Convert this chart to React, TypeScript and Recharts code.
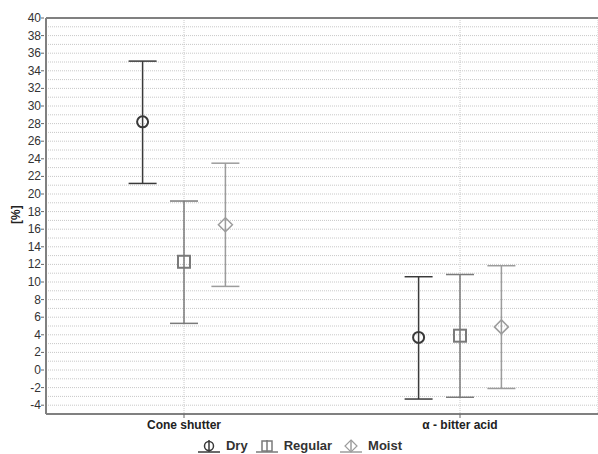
import React from 'react'
import {
  ComposedChart, Scatter, ErrorBar, XAxis, YAxis, CartesianGrid,
  ReferenceLine, Legend, Label,
} from 'recharts'

const categories = ['Cone shutter', 'α - bitter acid']
const groups = ['Dry', 'Regular', 'Moist']

const dryMean = [28.2, 3.7]
const dryUpper = [35.1, 10.6]
const dryLower = [21.2, -3.3]

const regularMean = [12.3, 3.9]
const regularUpper = [19.2, 10.85]
const regularLower = [5.3, -3.1]

const moistMean = [16.5, 4.9]
const moistUpper = [23.5, 11.85]
const moistLower = [9.5, -2.1]

const yTicks = Array.from({ length: 46 }, (_, i) => i - 5)

const colors = ['#3a3a3a', '#7a7a7a', '#9c9c9c']
const offsets = [-0.15, 0, 0.15]

function build(g: number, mean: number[], upper: number[], lower: number[]) {
  return mean.map((m, i) => ({
    x: i + offsets[g],
    y: m,
    err: [m - lower[i], upper[i] - m],
  }))
}

const dryData = build(0, dryMean, dryUpper, dryLower)
const regularData = build(1, regularMean, regularUpper, regularLower)
const moistData = build(2, moistMean, moistUpper, moistLower)

const font = '"Liberation Sans", Arial, sans-serif'

function Circle({ cx, cy }: any) {
  return <circle cx={cx} cy={cy} r={5.5} fill="none" stroke={colors[0]} strokeWidth={2} />
}
function Square({ cx, cy }: any) {
  return <rect x={cx - 6} y={cy - 6} width={12} height={12} fill="none" stroke={colors[1]} strokeWidth={2} />
}
function Diamond({ cx, cy }: any) {
  return <path d={`M${cx},${cy - 7}L${cx + 7},${cy}L${cx},${cy + 7}L${cx - 7},${cy}Z`} fill="none" stroke={colors[2]} strokeWidth={1.5} />
}

function YTick({ x, y, payload }: any) {
  const v = payload.value
  return (
    <g>
      {v % 2 === 0 && v > -5 && (
        <>
          <line x1={x + 3} x2={x + 6} y1={y} y2={y} stroke="#666" />
          <text x={x + 3} y={y} dy={4} textAnchor="end" fontSize={12} fill="#333" fontFamily={font}>{v}</text>
        </>
      )}
    </g>
  )
}

function Glyph({ i }: { i: number }) {
  const c = colors[i]
  return (
    <svg width={26} height={14} style={{ display: 'block' }}>
      <line x1={13} x2={13} y1={1} y2={13} stroke={c} strokeWidth={1.5} />
      <line x1={2} x2={24} y1={13} y2={13} stroke={c} strokeWidth={1.5} />
      {i === 0 && <circle cx={13} cy={7} r={4.5} fill="none" stroke={c} strokeWidth={1.5} />}
      {i === 1 && <rect x={8} y={2} width={10} height={10} fill="none" stroke={c} strokeWidth={1.5} />}
      {i === 2 && <path d="M13,1L19,7L13,13L7,7Z" fill="none" stroke={c} strokeWidth={1.2} />}
    </svg>
  )
}

function LegendContent() {
  return (
    <div style={{ display: 'flex', justifyContent: 'center', gap: 6, paddingTop: 4, lineHeight: '15px', fontFamily: font, fontSize: 13, fontWeight: 'bold', color: '#333' }}>
      {groups.map((g, i) => (
        <span key={g} style={{ display: 'flex', alignItems: 'center', gap: 4 }}>
          <Glyph i={i} />
          {g}
        </span>
      ))}
    </div>
  )
}

export default function App() {
  return (
    <div style={{ position: 'absolute', left: 0, top: 0, background: '#fff' }}>
      <ComposedChart width={598} height={454} margin={{ top: 18, right: 0, left: 0, bottom: 0 }}>
        <CartesianGrid stroke="#c8c8c8" strokeDasharray="1 1" />
        <XAxis
          type="number"
          dataKey="x"
          domain={[-0.5, 1.5]}
          ticks={[0, 1]}
          tickFormatter={(v: number) => categories[v]}
          tick={{ fontSize: 12, fontWeight: 'bold', fill: '#222', fontFamily: font }}
          tickLine={{ stroke: '#666' }}
          tickSize={4}
          axisLine={{ stroke: '#808080', strokeWidth: 2 }}
          height={20}
          allowDataOverflow
        />
        <YAxis
          type="number"
          dataKey="y"
          domain={[-5, 40]}
          ticks={yTicks}
          interval={0}
          tick={<YTick />}
          tickLine={false}
          axisLine={{ stroke: '#808080', strokeWidth: 2 }}
          width={46}
          allowDataOverflow
        >
          <Label value="[%]" angle={-90} position="insideLeft" offset={16} dy={8} style={{ fontSize: 12, fontWeight: 'bold', fill: '#222', fontFamily: font }} />
        </YAxis>
        <ReferenceLine y={40} stroke="#808080" strokeWidth={2} />
        <Legend verticalAlign="bottom" height={20} content={<LegendContent />} />
        <Scatter name="Dry" data={dryData} dataKey="y" shape={<Circle />} isAnimationActive={false}>
          <ErrorBar dataKey="err" direction="y" width={14} stroke={colors[0]} strokeWidth={1.5} />
        </Scatter>
        <Scatter name="Regular" data={regularData} dataKey="y" shape={<Square />} isAnimationActive={false}>
          <ErrorBar dataKey="err" direction="y" width={14} stroke={colors[1]} strokeWidth={1.5} />
        </Scatter>
        <Scatter name="Moist" data={moistData} dataKey="y" shape={<Diamond />} isAnimationActive={false}>
          <ErrorBar dataKey="err" direction="y" width={14} stroke={colors[2]} strokeWidth={1.5} />
        </Scatter>
      </ComposedChart>
    </div>
  )
}
